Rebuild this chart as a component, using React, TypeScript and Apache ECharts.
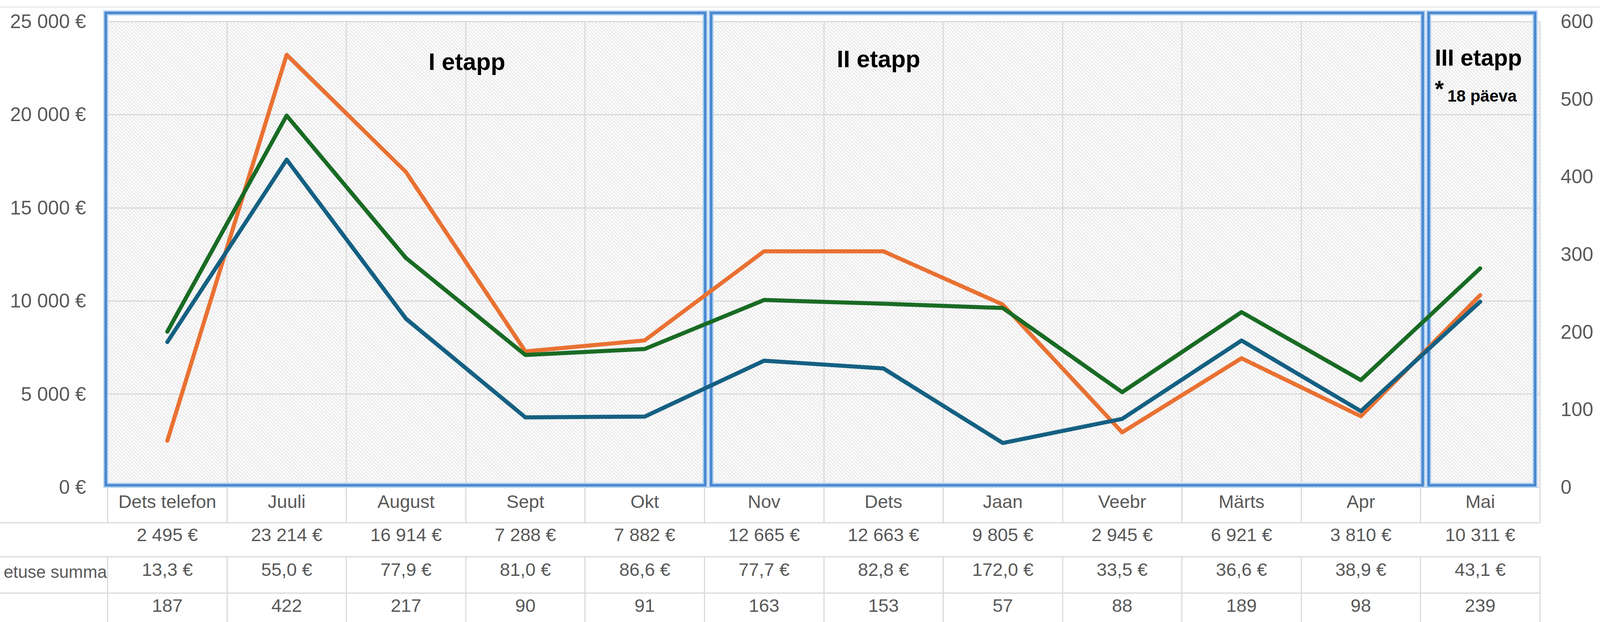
import React, { useEffect, useRef } from 'react';
import * as echarts from 'echarts';

// ---------- data ----------
const categories = ['Dets telefon', 'Juuli', 'August', 'Sept', 'Okt', 'Nov', 'Dets', 'Jaan', 'Veebr', 'Märts', 'Apr', 'Mai'];
const donationSums = [2495, 23214, 16914, 7288, 7882, 12665, 12663, 9805, 2945, 6921, 3810, 10311];
const averageDonation = [13.3, 55.0, 77.9, 81.0, 86.6, 77.7, 82.8, 172.0, 33.5, 36.6, 38.9, 43.1];
const donationCounts = [187, 422, 217, 90, 91, 163, 153, 57, 88, 189, 98, 239];
const greenValues = [8350, 19950, 12300, 7100, 7420, 10050, 9850, 9620, 5100, 9400, 5750, 11750];
const leftAxisMax = 25000;
const leftAxisStep = 5000;
const rightAxisMax = 600;
const rightAxisStep = 100;
const stageLabels = ['I etapp', 'II etapp', 'III etapp'];
const stageNote = '18 päeva';
const rowLabel = 'etuse summa';

// ---------- reference layout (in 4311 x 1592 space) ----------
const REF_W = 4311;
const REF_H = 1592;
const GL = 290;
const GR = 4149;
const GT = 55;
const GB = 1247;
const ROW1 = 1338;
const ROW2 = 1425;
const ROW3 = 1518;

const FONT = "'Liberation Sans', Arial, sans-serif";
const GRID_GRAY = '#d9d9d9';
const TEXT_GRAY = '#595959';

const group = (n: number) => String(Math.round(n)).replace(/\B(?=(\d{3})+(?!\d))/g, '\u00a0');
const euro = (n: number) => group(n) + '\u00a0€';
const euroDec = (n: number) => n.toFixed(1).replace('.', ',') + '\u00a0€';

function hatch(size: number) {
  const s = Math.max(4, Math.round(size));
  const svg =
    `<svg xmlns='http://www.w3.org/2000/svg' width='${s}' height='${s}'>` +
    `<rect width='${s}' height='${s}' fill='#ffffff'/>` +
    `<path d='M-2,-2 L${s + 2},${s + 2} M-2,${s - 2} L2,${s + 2} M${s - 2},-2 L${s + 2},2' stroke='#e6e6e6' stroke-width='2.4'/></svg>`;
  return { url: 'data:image/svg+xml;charset=utf-8,' + encodeURIComponent(svg), s };
}

export default function App() {
  const ref = useRef<HTMLDivElement>(null);

  useEffect(() => {
    if (!ref.current) return;
    document.body.style.margin = '0';
    document.body.style.overflow = 'hidden';
    const el = ref.current;
    const chart = echarts.init(el, null, { renderer: 'svg' });
    const w = chart.getWidth();
    const h = chart.getHeight();
    const sx = w / REF_W;
    const sy = h / REF_H;
    const fs = Math.min(sx, sy);
    const X = (v: number) => v * sx;
    const Y = (v: number) => v * sy;
    const F = (v: number) => Math.round(v * fs);

    const colW = (X(GR) - X(GL)) / categories.length;
    const b = (i: number) => X(GL) + i * colW;
    const pat = hatch(9 * fs);

    const boxRect = (x0: number, x1: number) => {
      const y0 = Y(33);
      const y1 = Y(1242);
      return [
        {
          type: 'rect',
          z: 1,
          silent: true,
          shape: { x: x0, y: y0, width: x1 - x0, height: y1 - y0 },
          style: { fill: 'none', stroke: '#b8d6f4', lineWidth: 14 * fs },
        },
        {
          type: 'rect',
          z: 1,
          silent: true,
          shape: { x: x0, y: y0, width: x1 - x0, height: y1 - y0 },
          style: { fill: 'none', stroke: '#4a88d0', lineWidth: 7 * fs },
        },
      ];
    };

    const tableAxis = (offset: number, tickLen: number, margin: number, fmt: (i: number) => string) => ({
      type: 'category',
      data: categories,
      position: 'bottom',
      offset,
      boundaryGap: true,
      axisLine: { show: false },
      axisTick: { show: true, length: tickLen, lineStyle: { color: GRID_GRAY, width: 3 * fs } },
      axisLabel: {
        interval: 0,
        margin,
        fontSize: F(49),
        fontFamily: FONT,
        color: TEXT_GRAY,
        formatter: (_v: string, i: number) => fmt(i),
      },
      splitLine: { show: false },
    });

    const txt = (text: string, x: number, y: number, size: number, align: string, bold = true, color = '#000') => ({
      type: 'text',
      z: 6,
      x,
      y,
      silent: true,
      style: {
        text,
        font: `${bold ? 'bold ' : ''}${F(size)}px ${FONT}`,
        fill: color,
        align,
        verticalAlign: 'middle',
      },
    });

    const graphic: any[] = [
      {
        type: 'line',
        z: 0,
        silent: true,
        shape: { x1: 0, y1: Y(18), x2: w, y2: Y(18) },
        style: { stroke: '#e6e6e6', lineWidth: 3 * fs },
      },
      ...[ROW1, ROW2, ROW3].map((y) => ({
        type: 'line',
        z: 0,
        silent: true,
        shape: { x1: 0, y1: Y(y), x2: X(GR), y2: Y(y) },
        style: { stroke: GRID_GRAY, lineWidth: 3 * fs },
      })),
      ...boxRect(b(0) - X(5), b(5) + X(2)),
      ...boxRect(b(5) + X(18), b(11) + X(6)),
      ...boxRect(b(11) + X(22), b(12) - X(13)),
      txt(stageLabels[0], X(1258), Y(158), 64, 'center'),
      txt(stageLabels[1], X(2367), Y(151), 64, 'center'),
      txt(stageLabels[2], X(3866), Y(148), 62, 'left'),
      txt('*', X(3866), Y(228), 62, 'left'),
      txt(stageNote, X(3900), Y(245), 44, 'left'),
      txt(rowLabel, X(288), Y(1463), 46, 'right', false, TEXT_GRAY),
    ];

    const lineW = 11 * fs;

    const option: any = {
      animation: false,
      backgroundColor: '#ffffff',
      grid: {
        show: true,
        left: X(GL),
        top: Y(GT),
        width: X(GR) - X(GL),
        height: Y(GB) - Y(GT),
        borderWidth: 0,
        backgroundColor: { image: pat.url, repeat: 'repeat', imageWidth: pat.s, imageHeight: pat.s },
        containLabel: false,
      },
      xAxis: [
        {
          type: 'category',
          data: categories,
          position: 'bottom',
          boundaryGap: true,
          axisLine: { show: true, lineStyle: { color: GRID_GRAY, width: 3 * fs } },
          axisTick: { show: true, length: Y(ROW1) - Y(GB), lineStyle: { color: GRID_GRAY, width: 3 * fs } },
          axisLabel: { interval: 0, margin: Y(13), fontSize: F(49), fontFamily: FONT, color: TEXT_GRAY },
          splitLine: { show: true, lineStyle: { color: GRID_GRAY, width: 3 * fs } },
        },
        tableAxis(Y(ROW1) - Y(GB), Y(ROW2) - Y(ROW1), Y(7), (i) => euro(donationSums[i])),
        tableAxis(Y(ROW2) - Y(GB), Y(ROW3) - Y(ROW2), Y(9), (i) => euroDec(averageDonation[i])),
        tableAxis(Y(ROW3) - Y(GB), Y(100), Y(8), (i) => String(donationCounts[i])),
      ],
      yAxis: [
        {
          type: 'value',
          min: 0,
          max: leftAxisMax,
          interval: leftAxisStep,
          position: 'left',
          axisLine: { show: false },
          axisTick: { show: false },
          axisLabel: {
            margin: X(58),
            fontSize: F(53),
            fontFamily: FONT,
            color: TEXT_GRAY,
            padding: [0, 0, Y(10), 0],
            formatter: (v: number) => euro(v),
          },
          splitLine: { show: true, lineStyle: { color: GRID_GRAY, width: 3 * fs } },
        },
        {
          type: 'value',
          min: 0,
          max: rightAxisMax,
          interval: rightAxisStep,
          position: 'right',
          axisLine: { show: false },
          axisTick: { show: false },
          axisLabel: {
            margin: X(56),
            fontSize: F(53),
            fontFamily: FONT,
            color: TEXT_GRAY,
            padding: [0, 0, Y(8), 0],
          },
          splitLine: { show: false },
        },
      ],
      series: [
        {
          name: 'Annetuste summa',
          type: 'line',
          xAxisIndex: 0,
          yAxisIndex: 0,
          data: donationSums,
          symbol: 'none',
          lineStyle: { color: '#E97132', width: lineW, cap: 'round', join: 'round' },
          z: 3,
        },
        {
          name: 'Annetuste arv',
          type: 'line',
          xAxisIndex: 0,
          yAxisIndex: 1,
          data: donationCounts,
          symbol: 'none',
          lineStyle: { color: '#156082', width: lineW, cap: 'round', join: 'round' },
          z: 4,
        },
        {
          name: 'Roheline',
          type: 'line',
          xAxisIndex: 0,
          yAxisIndex: 0,
          data: greenValues,
          symbol: 'none',
          lineStyle: { color: '#196B24', width: lineW, cap: 'round', join: 'round' },
          z: 5,
        },
      ],
      graphic,
    };

    chart.setOption(option);
    return () => chart.dispose();
  }, []);

  return <div ref={ref} style={{ position: 'absolute', left: 0, top: 0, width: '100vw', height: '100vh' }} />;
}
